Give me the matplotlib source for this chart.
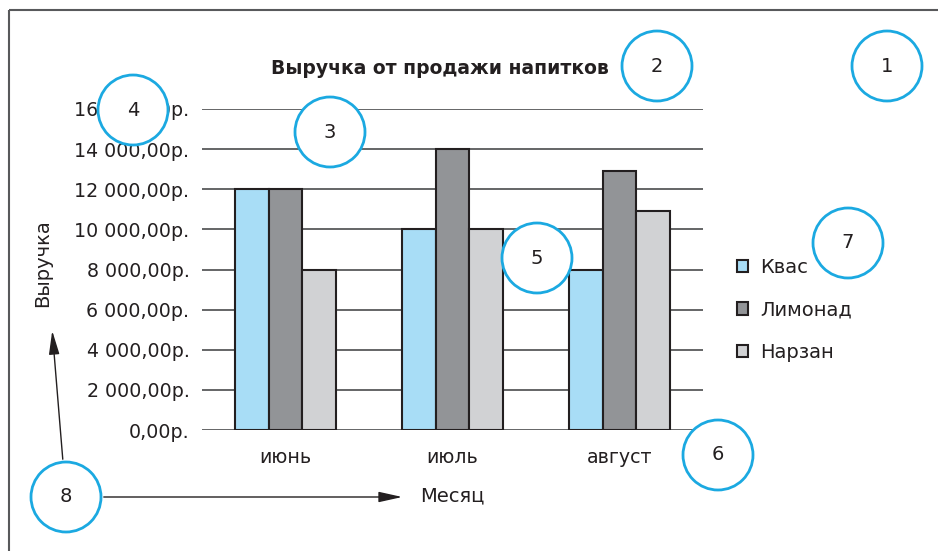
import numpy as np
import matplotlib
matplotlib.use("Agg")
import matplotlib.pyplot as plt
from matplotlib.patches import Circle, Rectangle

plt.rcParams['font.family'] = ['DejaVu Sans']

months = ["июнь", "июль", "август"]
series = ["Квас", "Лимонад", "Нарзан"]
kvas = [12000, 10000, 8000]
limonad = [12000, 14000, 12900]
narzan = [8000, 10000, 10900]
yticks = [0, 2000, 4000, 6000, 8000, 10000, 12000, 14000, 16000]
colors = ["#a8ddf6", "#929497", "#d1d2d4"]

W, H = 938, 551
fig = plt.figure(figsize=(W / 100, H / 100), dpi=100)

# plot area in pixel units
ax = fig.add_axes([202 / W, (H - 430) / H, 501 / W, 321 / H])
x = np.arange(len(months))
bw = 0.2
for i, (vals, c, name) in enumerate(zip([kvas, limonad, narzan], colors, series)):
    ax.bar(x + (i - 1) * bw, vals, bw, color=c, edgecolor="#231f20",
           linewidth=1.5, label=name, zorder=3)

ax.set_xlim(-0.5, 2.5)
ax.set_ylim(0, 16000)
ax.set_yticks(yticks)
ax.set_yticklabels([f"{v:,.2f}".replace(",", " ").replace(".", ",") + "р." for v in yticks])
ax.set_xticks(x)
ax.set_xticklabels(months)
ax.tick_params(axis="both", length=0, labelsize=13.7, colors="#231f20")
ax.tick_params(axis="y", pad=9)
ax.tick_params(axis="x", pad=13)
ax.yaxis.grid(True, color="#58595b", linewidth=1.3, zorder=0)
ax.set_axisbelow(True)
for s in ax.spines.values():
    s.set_visible(False)

ax.set_ylabel("Выручка", fontsize=14, color="#231f20")
ax.yaxis.set_label_coords(-150 / 501, 0.52)
ax.set_xlabel("Месяц", fontsize=14, color="#231f20")
ax.xaxis.set_label_coords(250 / 501, -56 / 321)

fig.text(440 / W, 1 - 68 / H, "Выручка от продажи напитков", ha="center",
         va="center", fontsize=13.5, fontweight="bold", color="#231f20")

leg = fig.legend(loc="center left", bbox_to_anchor=(719 / W, 1 - 310 / H),
                 frameon=False, fontsize=14, handlelength=0.6, handleheight=0.6,
                 handletextpad=0.6, labelspacing=1.2)
for t in leg.get_texts():
    t.set_color("#231f20")

# overlay in pixel coordinates for the frame, callouts and arrows
ov = fig.add_axes([0, 0, 1, 1], facecolor="none")
ov.set_xlim(0, W)
ov.set_ylim(H, 0)
ov.axis("off")
ov.add_patch(Rectangle((9, 10), W + 20, H + 20, fill=False, edgecolor="#58595b", linewidth=1.5))

callouts = {1: (887, 66), 2: (657, 66), 3: (330, 132), 4: (133, 110),
            5: (537, 258), 6: (718, 455), 7: (848, 243), 8: (66, 497)}
for n, (cx, cy) in callouts.items():
    ov.add_patch(Circle((cx, cy), 35, facecolor="white", edgecolor="#1ba9e1", linewidth=2, zorder=5))
    ov.text(cx, cy, str(n), ha="center", va="center", fontsize=14, color="#231f20", zorder=6)

arrow = dict(arrowstyle="-|>,head_length=0.9,head_width=0.2", color="#231f20",
             lw=1.0, mutation_scale=16)
ov.annotate("", xy=(52, 328), xytext=(63, 462), arrowprops=arrow)
ov.annotate("", xy=(405, 497), xytext=(101, 497), arrowprops=arrow)

fig.savefig("out.png", dpi=100)
